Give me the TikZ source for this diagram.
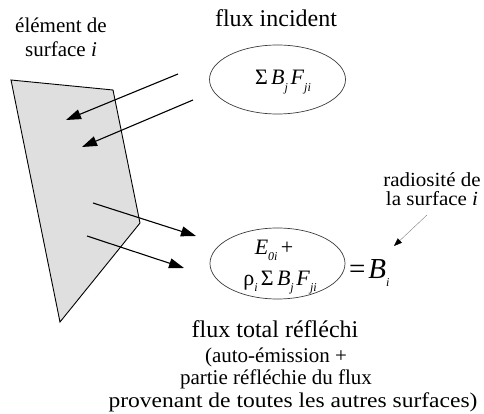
\documentclass[tikz,border=0pt]{standalone}
\usepackage{fontspec}
\setmainfont{Liberation Serif}
\usetikzlibrary{arrows.meta,shapes.geometric}
\definecolor{plate}{RGB}{223,223,223}
\definecolor{ell}{RGB}{60,60,60}
\newcommand\lw[1]{\raisebox{-0.3em}{\fontsize{12}{12}\selectfont\textit{#1}}}
\begin{document}
\begin{tikzpicture}[x=1pt,y=-1pt,
  lbl/.style={inner sep=0pt,anchor=base},
  big/.style={lbl,font=\fontsize{24}{24}\selectfont},
  mid/.style={lbl,font=\fontsize{21}{21}\selectfont},
  eq/.style={lbl,font=\fontsize{22}{22}\selectfont},
  oval/.style={draw=ell,line width=0.7pt,ellipse,inner sep=0pt},
  ray/.style={line width=1.1pt,-{Triangle[length=15pt,width=10pt]}},
  pointer/.style={draw=gray,line width=0.4pt,-{Triangle[length=8pt,width=6pt,black]}}]
\useasboundingbox (0,0) rectangle (484,414);
% plate
\draw[fill=plate,line width=0.9pt,line join=miter] (11,80) -- (113,90) -- (140,223) -- (60,322) -- cycle;
% labels
\node[mid] (el1) at (61,33) {élément de};
\node[mid] (el2) at (61,57) {surface \textit{i}};
\node[big] (fi) at (276,27) {flux incident};
% ellipses
\node[oval,minimum width=136pt,minimum height=69pt] (e1) at (277.5,79.5) {};
\node[eq] (s1) at (283,85) {Σ\hspace{0.15em}\textit{B}\lw{j}\hspace{0.12em}\textit{F}\lw{ji}};
\node[oval,minimum width=135pt,minimum height=71pt] (e2) at (277.5,263.5) {};
\node[eq] (s2) at (274,254) {\textit{E}\lw{0i}\hspace{0.15em}+};
\node[eq] (s3) at (280,285) {ρ\lw{i}\hspace{0.15em}Σ\hspace{0.15em}\textit{B}\lw{j}\hspace{0.12em}\textit{F}\lw{ji}};
\node[lbl,anchor=base west,font=\fontsize{29}{29}\selectfont] (bi) at (349,278) {=\hspace{0.1em}\textit{B}\lw{i}};
% radiosite
\node[lbl,font=\fontsize{20}{20}\selectfont] (r1) at (432,186) {\scalebox{1.05}[1]{radiosité de}};
\node[lbl,font=\fontsize{20}{20}\selectfont] (r2) at (432,205) {\scalebox{1.05}[1]{la surface \textit{i}}};
% bottom text
\node[big] (ft) at (275,337) {flux total réfléchi};
\node[mid] (b1) at (276,362) {(auto-émission +};
\node[mid] (b2) at (276,384) {partie réfléchie du flux};
\node[mid] (b3) at (293,407) {\scalebox{1.12}[1]{provenant de toutes les autres surfaces)}};
% arrows
\coordinate (a1s) at (178,74); \coordinate (a1e) at (66,120);
\coordinate (a2s) at (193,100); \coordinate (a2e) at (82,147);
\coordinate (a3s) at (93,203); \coordinate (a3e) at (196,236);
\coordinate (a4s) at (87,236); \coordinate (a4e) at (184,268);
\draw[ray] (a1s) -- (a1e);
\draw[ray] (a2s) -- (a2e);
\draw[ray] (a3s) -- (a3e);
\draw[ray] (a4s) -- (a4e);
\coordinate (rs) at (427,215); \coordinate (re) at (394,246);
\draw[pointer] (rs) -- (re);
\end{tikzpicture}
\end{document}
